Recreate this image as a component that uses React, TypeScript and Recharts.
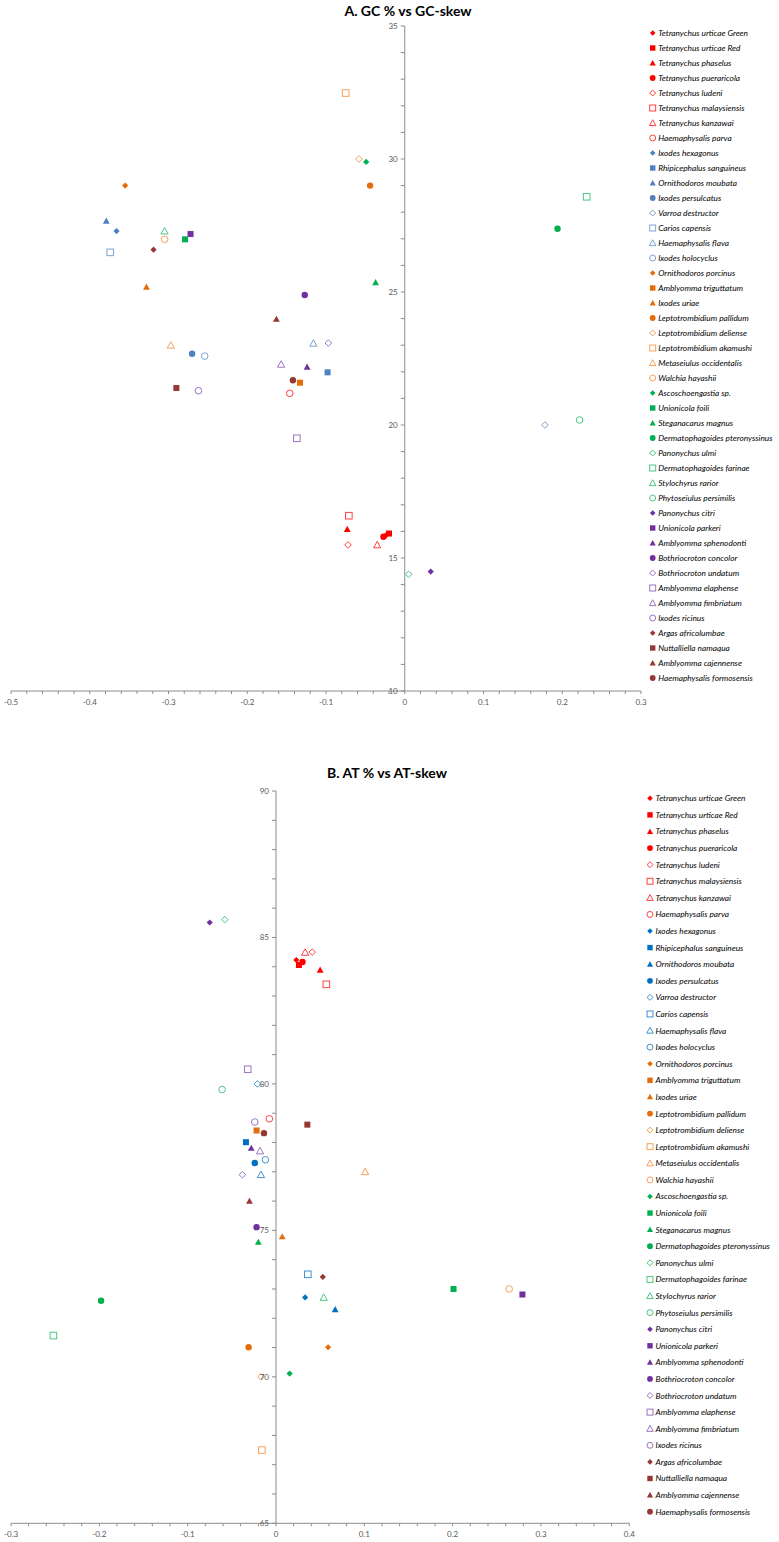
import React from 'react';
import { ScatterChart, Scatter, XAxis, YAxis, ReferenceLine } from 'recharts';

// species in legend order; markers cycle every 8, colour changes every 8
const SPECIES = [
  'Tetranychus urticae Green', 'Tetranychus urticae Red', 'Tetranychus phaselus', 'Tetranychus pueraricola',
  'Tetranychus ludeni', 'Tetranychus malaysiensis', 'Tetranychus kanzawai', 'Haemaphysalis parva',
  'Ixodes hexagonus', 'Rhipicephalus sanguineus', 'Ornithodoros moubata', 'Ixodes persulcatus',
  'Varroa destructor', 'Carios capensis', 'Haemaphysalis flava', 'Ixodes holocyclus',
  'Ornithodoros porcinus', 'Amblyomma triguttatum', 'Ixodes uriae', 'Leptotrombidium pallidum',
  'Leptotrombidium deliense', 'Leptotrombidium akamushi', 'Metaseiulus occidentalis', 'Walchia hayashii',
  'Ascoschoengastia sp.', 'Unionicola foili', 'Steganacarus magnus', 'Dermatophagoides pteronyssinus',
  'Panonychus ulmi', 'Dermatophagoides farinae', 'Stylochyrus rarior', 'Phytoseiulus persimilis',
  'Panonychus citri', 'Unionicola parkeri', 'Amblyomma sphenodonti', 'Bothriocroton concolor',
  'Bothriocroton undatum', 'Amblyomma elaphense', 'Amblyomma fimbriatum', 'Ixodes ricinus',
  'Argas africolumbae', 'Nuttalliella namaqua', 'Amblyomma cajennense', 'Haemaphysalis formosensis',
];

const GC_SKEW = [
  -0.024, -0.020, -0.073, -0.027, -0.072, -0.071, -0.035, -0.146,
  -0.366, -0.098, -0.379, -0.270, 0.178, -0.374, -0.116, -0.254,
  -0.355, -0.133, -0.328, -0.044, -0.058, -0.075, -0.297, -0.305,
  -0.049, -0.279, -0.037, 0.194, 0.005, 0.231, -0.305, 0.222,
  0.033, -0.272, -0.124, -0.127, -0.097, -0.137, -0.157, -0.262,
  -0.319, -0.290, -0.163, -0.142,
];
const GC_PCT = [
  15.85, 15.92, 16.08, 15.8, 15.49, 16.59, 15.49, 21.19,
  27.29, 21.98, 27.67, 22.68, 20.0, 26.49, 23.07, 22.59,
  29.0, 21.59, 25.19, 29.0, 30.0, 32.48, 23.0, 26.98,
  29.89, 26.98, 25.36, 27.38, 14.39, 28.58, 27.29, 20.19,
  14.49, 27.18, 22.18, 24.89, 23.08, 19.5, 22.28, 21.29,
  26.59, 21.39, 23.98, 21.68,
];
const AT_SKEW = [
  0.023, 0.026, 0.050, 0.030, 0.041, 0.057, 0.033, -0.0075,
  0.033, -0.034, 0.067, -0.024, -0.021, 0.036, -0.017, -0.012,
  0.059, -0.022, 0.007, -0.031, -0.017, -0.016, 0.101, 0.264,
  0.0155, 0.201, -0.020, -0.198, -0.058, -0.252, 0.054, -0.061,
  -0.075, 0.279, -0.028, -0.022, -0.038, -0.032, -0.018, -0.024,
  0.053, 0.0355, -0.030, -0.0136,
];
const AT_PCT = [
  84.23, 84.06, 83.89, 84.16, 84.5, 83.4, 84.49, 78.81,
  72.71, 78.01, 72.3, 77.3, 80.0, 73.5, 76.9, 77.41,
  71.01, 78.41, 74.79, 71.01, 70.0, 67.5, 77.0, 73.0,
  70.11, 73.0, 74.6, 72.6, 85.61, 71.41, 72.71, 79.81,
  85.51, 72.81, 77.81, 75.11, 76.9, 80.5, 77.71, 78.7,
  73.41, 78.61, 76.0, 78.32,
];

const MARKERS = ['fd', 'fs', 'ft', 'fc', 'od', 'os', 'ot', 'oc'];
const COLORS_A = ['#FF0000', '#4F81BD', '#E46C0A', '#00B050', '#7030A0', '#953735'];
const OPEN_A = ['#FF4040', '#7FA2CF', '#F5A25D', '#4CC686', '#9A74C0', '#B0605E'];
const COLORS_B = ['#FF0000', '#0070C0', '#E46C0A', '#00B050', '#7030A0', '#953735'];
const OPEN_B = ['#FF4040', '#3E92D0', '#F5A25D', '#4CC686', '#9A74C0', '#B0605E'];

const X_TICKS_A = [-0.5, -0.4, -0.3, -0.2, -0.1, 0, 0.1, 0.2, 0.3];
const Y_TICKS_A = [10, 15, 20, 25, 30, 35];
const X_TICKS_B = [-0.3, -0.2, -0.1, 0, 0.1, 0.2, 0.3, 0.4];
const Y_TICKS_B = [65, 70, 75, 80, 85, 90];

const AXIS = '#8C8C8C';
const TICK_TEXT = '#595959';
const FONT = 'Lato, "Liberation Sans", sans-serif';

function minorTicks(from: number, to: number, step: number) {
  const out: number[] = [];
  const n = Math.round((to - from) / step);
  for (let i = 0; i <= n; i++) out.push(Math.round((from + i * step) * 1000) / 1000);
  return out;
}

function Marker({ cx, cy, kind, color, k = 1 }: { cx: number; cy: number; kind: string; color: string; k?: number }) {
  const open = kind[0] === 'o';
  const fill = open ? 'none' : color;
  const sw = open ? 1 : 0;
  const shape = kind[1];
  if (shape === 'd') {
    const h = (open ? 3.3 : 3.1) * k;
    return <polygon points={`${cx},${cy - h} ${cx + h},${cy} ${cx},${cy + h} ${cx - h},${cy}`} fill={fill} stroke={color} strokeWidth={sw} />;
  }
  if (shape === 's') {
    const h = (open ? 3.3 : 3.0) * k;
    return <rect x={cx - h} y={cy - h} width={h * 2} height={h * 2} fill={fill} stroke={color} strokeWidth={sw} />;
  }
  if (shape === 't') {
    const h = (open ? 3.6 : 3.4) * k;
    return <polygon points={`${cx},${cy - h} ${cx + h},${cy + h * 0.8} ${cx - h},${cy + h * 0.8}`} fill={fill} stroke={color} strokeWidth={sw} />;
  }
  const r = (open ? 3.3 : 3.2) * k;
  return <circle cx={cx} cy={cy} r={r} fill={fill} stroke={color} strokeWidth={sw} />;
}

interface PanelProps {
  top: number;
  height: number;
  margin: { top: number; left: number; right: number; bottom: number };
  xDomain: [number, number];
  yDomain: [number, number];
  xMajor: number[];
  yMajor: number[];
  xs: number[];
  ys: number[];
  colors: string[];
  open: string[];
}

function Panel({ top, height, margin, xDomain, yDomain, xMajor, yMajor, xs, ys, colors, open }: PanelProps) {
  const width = 779;
  const yAxisW = 1;
  const plotLeft = margin.left + yAxisW;
  const plotW = width - plotLeft - margin.right;
  const zeroX = plotLeft + plotW * (0 - xDomain[0]) / (xDomain[1] - xDomain[0]);
  const xAxisH = 20;
  const plotBottom = height - margin.bottom - xAxisH;
  const xTicks = minorTicks(xDomain[0], xDomain[1], 0.02);
  const yTicks = minorTicks(yDomain[0], yDomain[1], 1);
  const isMajorX = (v: number) => xMajor.some((m) => Math.abs(m - v) < 1e-6);
  const isMajorY = (v: number) => yMajor.some((m) => Math.abs(m - v) < 1e-6);

  const XTick = (p: any) => {
    const v = p.payload.value;
    const x = p.x;
    return (
      <g>
        <line x1={x} x2={x} y1={plotBottom} y2={plotBottom + 3} stroke={AXIS} strokeWidth={1} />
        {isMajorX(v) && (
          <text x={x} y={plotBottom + 14} textAnchor="middle" fontSize={8} fontFamily={FONT} fill={TICK_TEXT}>
            {String(v)}
          </text>
        )}
      </g>
    );
  };
  const YTick = (p: any) => {
    const v = p.payload.value;
    const y = p.y;
    return (
      <g>
        <line x1={zeroX - 4} x2={zeroX} y1={y} y2={y} stroke={AXIS} strokeWidth={1} />
        {isMajorY(v) && (
          <text x={zeroX - 7} y={y + 3} textAnchor="end" fontSize={8} fontFamily={FONT} fill={TICK_TEXT}>
            {String(v)}
          </text>
        )}
      </g>
    );
  };

  return (
    <div style={{ position: 'absolute', left: 0, top, width, height }}>
      <ScatterChart width={width} height={height} margin={margin}>
        <XAxis
          type="number"
          dataKey="x"
          domain={xDomain}
          ticks={xTicks}
          interval={0}
          tickLine={false}
          axisLine={{ stroke: AXIS }}
          tick={XTick}
          height={xAxisH}
          allowDataOverflow
        />
        <YAxis
          type="number"
          dataKey="y"
          domain={yDomain}
          ticks={yTicks}
          interval={0}
          tickLine={false}
          axisLine={false}
          tick={YTick}
          width={yAxisW}
          allowDataOverflow
        />
        <ReferenceLine x={0} stroke={AXIS} strokeWidth={1} />
        {SPECIES.map((name, i) => {
          const g = Math.floor(i / 8);
          const kind = MARKERS[i % 8];
          const color = kind[0] === 'o' ? open[g] : colors[g];
          return (
            <Scatter
              key={name}
              name={name}
              data={[{ x: xs[i], y: ys[i] }]}
              isAnimationActive={false}
              shape={(p: any) => <Marker cx={p.cx} cy={p.cy} kind={kind} color={color} />}
            />
          );
        })}
      </ScatterChart>
    </div>
  );
}

function LegendList({ x, y0, step, colors, open }: { x: number; y0: number; step: number; colors: string[]; open: string[] }) {
  return (
    <g>
      {SPECIES.map((name, i) => {
        const g = Math.floor(i / 8);
        const kind = MARKERS[i % 8];
        const color = kind[0] === 'o' ? open[g] : colors[g];
        const y = y0 + i * step;
        return (
          <g key={name}>
            <Marker cx={x} cy={y} kind={kind} color={color} k={0.9} />
            <text x={x + 5.5} y={y + 3} fontSize={8.3} fontStyle="italic" fontFamily={FONT} fill="#000">
              {name}
            </text>
          </g>
        );
      })}
    </g>
  );
}

export default function App() {
  return (
    <div style={{ position: 'absolute', left: 0, top: 0, width: 779, height: 1542, background: '#fff', overflow: 'hidden' }}>
      <Panel
        top={0}
        height={740}
        margin={{ top: 26, left: 10, right: 138, bottom: 29 }}
        xDomain={[-0.5, 0.3]}
        yDomain={[10, 35]}
        xMajor={X_TICKS_A}
        yMajor={Y_TICKS_A}
        xs={GC_SKEW}
        ys={GC_PCT}
        colors={COLORS_A}
        open={OPEN_A}
      />
      <Panel
        top={760}
        height={782}
        margin={{ top: 31, left: 10, right: 149.7, bottom: -1.3 }}
        xDomain={[-0.3, 0.4]}
        yDomain={[65, 90]}
        xMajor={X_TICKS_B}
        yMajor={Y_TICKS_B}
        xs={AT_SKEW}
        ys={AT_PCT}
        colors={COLORS_B}
        open={OPEN_B}
      />
      <svg width={779} height={1542} style={{ position: 'absolute', left: 0, top: 0, pointerEvents: 'none' }}>
        <text x={408} y={16} textAnchor="middle" fontSize={14} fontWeight="bold" fontFamily={FONT} fill="#000">
          A. GC % vs GC-skew
        </text>
        <text x={387} y={778} textAnchor="middle" fontSize={14} fontWeight="bold" fontFamily={FONT} fill="#000">
          B. AT % vs AT-skew
        </text>
        <LegendList x={652.7} y0={33} step={15} colors={COLORS_A} open={OPEN_A} />
        <LegendList x={650} y0={798.3} step={16.59} colors={COLORS_B} open={OPEN_B} />
      </svg>
    </div>
  );
}
